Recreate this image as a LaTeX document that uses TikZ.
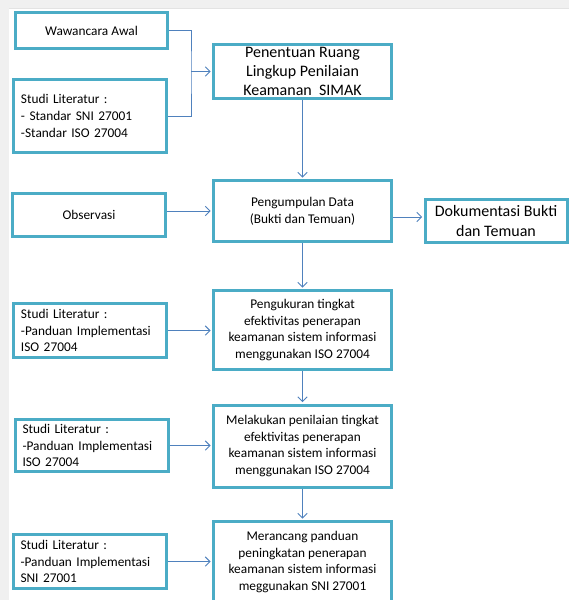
\documentclass[tikz,border=0pt]{standalone}
\usepackage{fontspec}
\setmainfont{Carlito}
\usetikzlibrary{arrows.meta}
\definecolor{garisbox}{RGB}{75,172,198}
\definecolor{garispanah}{RGB}{79,129,189}
\tikzset{
  kotak/.style={draw=garisbox, line width=2.25pt, fill=white, inner sep=0pt, align=center, font=\fontsize{10}{12.6}\selectfont},
  literatur/.style={kotak, align=left, text width=103.5pt, inner xsep=5.6pt, minimum width=114.75pt},
  proses/.style={kotak, minimum width=133.5pt},
  besar/.style={font=\fontsize{12}{14.5}\selectfont},
  garis/.style={draw=garispanah, line width=0.75pt},
  panah/.style={garis, -{Straight Barb[length=3.5pt,width=7pt]}, shorten >=1pt}
}
\begin{document}
\begin{tikzpicture}[x=0.75pt,y=-0.75pt]
  \path[use as bounding box] (0,0) rectangle (569,600);
  \clip (0,0) rectangle (569,600);
  \fill[black!6] (0,0) rectangle (569,600);
  \fill[white] (9,9) rectangle (569,600);
  \draw[black!11] (9,8.5) -- (569,8.5);

  % kolom kiri
  \node[kotak, minimum width=114pt, minimum height=27pt] (wawancara) at (91.5,30.5) {Wawancara Awal};
  \node[literatur, minimum height=54.75pt] (studi1) at (90,116) {Studi Literatur :\\- Standar SNI 27001\\-Standar ISO 27004};
  \node[kotak, minimum width=114.75pt, minimum height=32.25pt] (observasi) at (89,215) {Observasi};
  \node[literatur, minimum height=40.5pt] (studi2) at (90,330.5) {Studi Literatur :\\-Panduan Implementasi\\ISO 27004};
  \node[literatur, minimum height=39pt] (studi3) at (91.5,445.5) {Studi Literatur :\\-Panduan Implementasi\\ISO 27004};
  \node[literatur, minimum height=40.5pt] (studi4) at (89.5,561.5) {Studi Literatur :\\-Panduan Implementasi\\SNI 27001};

  % kolom tengah
  \node[proses, besar, minimum height=40.5pt] (penentuan) at (302.5,71.5) {Penentuan Ruang\\Lingkup Penilaian\\Keamanan~ SIMAK};
  \node[proses, minimum height=45.75pt] (pengumpulan) at (302.5,211) {Pengumpulan Data\\(Bukti dan Temuan)};
  \node[proses, minimum height=59.25pt] (pengukuran) at (302.5,330) {Pengukuran tingkat\\efektivitas penerapan\\keamanan sistem informasi\\menggunakan ISO 27004};
  \node[proses, minimum height=61.5pt] (melakukan) at (302.5,446) {Melakukan penilaian tingkat\\efektivitas penerapan\\keamanan sistem informasi\\menggunakan ISO 27004};
  \node[proses, minimum height=60.75pt] (merancang) at (302.5,562) {Merancang panduan\\peningkatan penerapan\\keamanan sistem informasi\\meggunakan SNI 27001};

  % kanan
  \node[kotak, besar, minimum width=106.5pt, minimum height=32.25pt] (dokumentasi) at (496,221) {Dokumentasi Bukti\\dan Temuan};

  % panah
  \coordinate (simpang) at (191,71.5);
  \draw[garis] (wawancara.east) -| (simpang) |- (studi1.east);
  \draw[panah] (simpang) -- (penentuan.west);
  \draw[panah] (penentuan) -- (pengumpulan);
  \draw[panah] (observasi.east |- pengumpulan.west) -- (pengumpulan.west);
  \coordinate (masukdok) at ([yshift=3pt]dokumentasi.west);
  \draw[panah] (pengumpulan.east |- masukdok) -- (masukdok);
  \draw[panah] (pengumpulan) -- (pengukuran);
  \draw[panah] (pengukuran) -- (melakukan);
  \draw[panah] (melakukan) -- (merancang);
  \draw[panah] (studi2.east) -- (studi2.east -| pengukuran.west);
  \draw[panah] (studi3.east) -- (studi3.east -| melakukan.west);
  \draw[panah] (studi4.east) -- (studi4.east -| merancang.west);
\end{tikzpicture}
\end{document}
